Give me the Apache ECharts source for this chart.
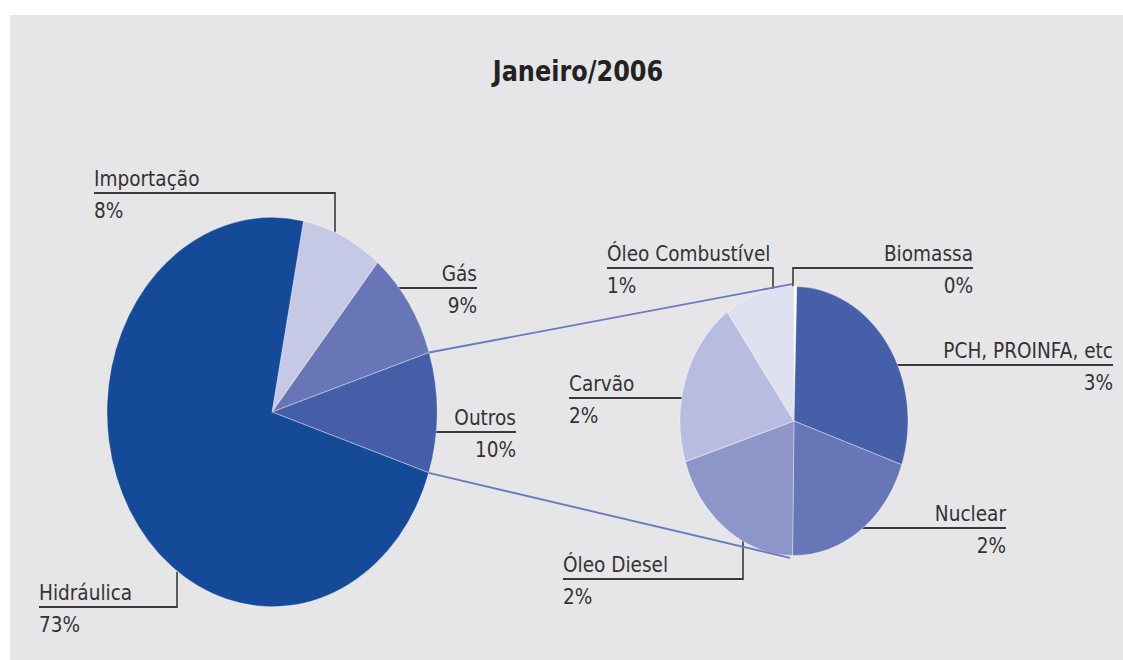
<!DOCTYPE html>
<html>
<head>
<meta charset="utf-8">
<script src="https://cdn.jsdelivr.net/npm/echarts@6/dist/echarts.min.js"></script>
<style>
  html, body { margin: 0; padding: 0; background: #fff; overflow: hidden; }
  #panel { position: absolute; left: 10px; top: 15px; right: 0; bottom: 0; background: #e6e6e8; }
  /* the original is stretched vertically, so the whole chart is stretched too */
  #chart { position: absolute; left: 0; top: 0; width: 1123px; height: 560px;
           transform: scaleY(1.18); transform-origin: 0 0; }
</style>
</head>
<body>
<div id="panel"></div>
<div id="chart"></div>
<script>
// dados
var mainNames  = ['Importação', 'Gás', 'Outros', 'Hidráulica'];
var mainValues = [8, 9, 10, 73];
var outrosNames  = ['Biomassa', 'PCH, PROINFA, etc', 'Nuclear', 'Óleo Diesel', 'Carvão', 'Óleo Combustível'];
var outrosValues = [0.04, 3, 2, 2, 2, 1];   // biomassa: fatia muito fina, rotulo 0%

// cores
var mainColors   = ['#c5c9e6', '#6876b7', '#445fa8', '#144a98'];
var outrosColors = ['#ffffff', '#4560a9', '#6776b6', '#8e96c9', '#b8bce0', '#dfe0f0'];

var SY = 1.18;
var TEXT = '#333333';
var FONT = 'DejaVu Sans';

// posicao dos rotulos (coordenadas da imagem): ponta da linha, lado do texto
var spots = {
  'Importação':        { side: 'left',  x: 94,   y: 193, from: [335, 268] },
  'Gás':               { side: 'right', x: 477,  y: 288, from: [387, 288] },
  'Outros':            { side: 'right', x: 516,  y: 432, from: [417, 432] },
  'Hidráulica':        { side: 'left',  x: 39,   y: 607, from: [177, 572] },
  'Óleo Combustível':  { side: 'left',  x: 607,  y: 268, from: [773, 300] },
  'Biomassa':          { side: 'right', x: 973,  y: 268, from: [793, 287] },
  'PCH, PROINFA, etc': { side: 'right', x: 1113, y: 365, from: [880, 365] },
  'Carvão':            { side: 'left',  x: 569,  y: 398, from: [698, 398] },
  'Nuclear':           { side: 'right', x: 1006, y: 528, from: [847, 528] },
  'Óleo Diesel':       { side: 'left',  x: 563,  y: 579, from: [743, 515] }
};

function layoutFor(names) {
  return function (params) {
    var s = spots[names[params.dataIndex]];
    return {
      x: s.x,
      y: s.y / SY + 1,
      align: s.side,
      verticalAlign: 'middle',
      labelLinePoints: [
        [s.from[0], s.from[1] / SY],
        [s.from[0], s.y / SY],
        [s.x, s.y / SY]
      ]
    };
  };
}

var labelOpt = {
  show: true,
  position: 'outside',
  formatter: function (p) {
    return '{n|' + p.name + '}\n{p|' + Math.round(p.value) + '%}';
  },
  rich: {
    n: { fontFamily: FONT, fontSize: 18.5, color: TEXT, lineHeight: 27.5 },
    p: { fontFamily: FONT, fontSize: 18.5, color: TEXT, lineHeight: 27.5 }
  }
};
var lineOpt = { show: true, lineStyle: { color: '#3a3a3a', width: 1.6 } };

var mainCenter = [272, 412 / SY], mainR = 165;
var outCenter  = [794, 421 / SY], outR = 114;
var mainStart = 79;

// linhas que ligam a fatia "Outros" ao segundo grafico
var total = mainValues.reduce(function (a, b) { return a + b; }, 0);
var before = mainValues[0] + mainValues[1];
var a1 = (90 - mainStart + before / total * 360) * Math.PI / 180;
var a2 = (90 - mainStart + (before + mainValues[2]) / total * 360) * Math.PI / 180;
function edge(a) {
  return [mainCenter[0] + mainR * Math.sin(a), mainCenter[1] - mainR * Math.cos(a)];
}
var p1 = edge(a1), p2 = edge(a2);

var myChart = echarts.init(document.getElementById('chart'), null, { renderer: 'svg' });
myChart.setOption({
  animation: false,
  title: {
    text: 'Janeiro/2006',
    left: 573,
    top: 43,
    textAlign: 'center',
    textStyle: { fontFamily: FONT, fontSize: 24, fontWeight: 'bold', color: '#222' }
  },
  graphic: [
    { type: 'line', z: 100, silent: true,
      shape: { x1: p1[0], y1: p1[1], x2: outCenter[0] - 2, y2: outCenter[1] - outR - 2 },
      style: { stroke: '#6a7ac2', lineWidth: 1.6 } },
    { type: 'line', z: 100, silent: true,
      shape: { x1: p2[0], y1: p2[1], x2: outCenter[0] - 4, y2: outCenter[1] + outR + 2 },
      style: { stroke: '#6a7ac2', lineWidth: 1.6 } }
  ],
  series: [
    {
      type: 'pie',
      silent: true,
      center: mainCenter,
      radius: mainR,
      startAngle: mainStart,
      clockwise: true,
      avoidLabelOverlap: false,
      itemStyle: { borderColor: 'rgba(255,255,255,0.35)', borderWidth: 1 },
      label: labelOpt,
      labelLine: lineOpt,
      labelLayout: layoutFor(mainNames),
      data: mainNames.map(function (n, i) {
        return { name: n, value: mainValues[i], itemStyle: { color: mainColors[i] } };
      })
    },
    {
      type: 'pie',
      silent: true,
      center: outCenter,
      radius: outR,
      startAngle: 90,
      clockwise: true,
      avoidLabelOverlap: false,
      itemStyle: { borderColor: 'rgba(255,255,255,0.35)', borderWidth: 1 },
      label: labelOpt,
      labelLine: lineOpt,
      labelLayout: layoutFor(outrosNames),
      data: outrosNames.map(function (n, i) {
        var item = { name: n, value: outrosValues[i], itemStyle: { color: outrosColors[i] } };
        if (i === 0) {
          item.itemStyle.borderColor = '#ffffff';
          item.itemStyle.borderWidth = 1.5;
        }
        return item;
      })
    }
  ]
});
</script>
</body>
</html>
